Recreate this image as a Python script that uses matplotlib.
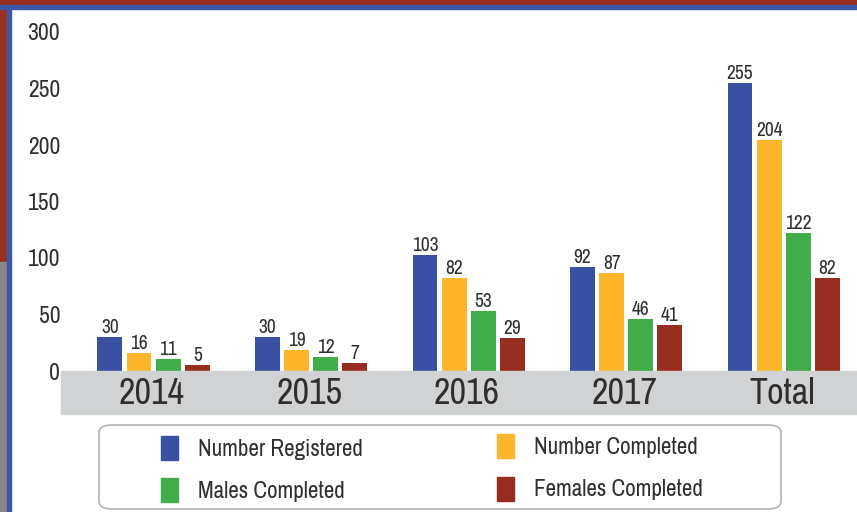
import matplotlib.pyplot as plt
import numpy as np
from matplotlib import font_manager
from matplotlib.patches import Rectangle, FancyBboxPatch

W, H = 857, 512

categories = ["2014", "2015", "2016", "2017", "Total"]
series_names = ["Number Registered", "Number Completed", "Males Completed", "Females Completed"]
registered = [30, 30, 103, 92, 255]
completed = [16, 19, 82, 87, 204]
males = [11, 12, 53, 46, 122]
females = [5, 7, 29, 41, 82]
y_ticks = [0, 50, 100, 150, 200, 250, 300]

colors = ["#3A51A3", "#FDB52B", "#41AC4A", "#962D20"]
text_col = "#2f2f2f"

# prefer a narrow sans if one is installed
names = sorted({f.name for f in font_manager.fontManager.ttflist})
narrow = [n for n in names if "Narrow" in n or "Condensed" in n]
family = narrow[0] if narrow else "Liberation Sans"
plt.rcParams['font.family'] = [family, 'DejaVu Sans']
k = 1.0 if narrow else 0.87  # shrink sizes for a wide fallback font

fig = plt.figure(figsize=(W / 100, H / 100), dpi=100)
fig.patch.set_facecolor("white")


def px(x0, y0, x1, y1):
    # pixel box (top-left origin) -> figure fraction rect
    return [x0 / W, 1 - y1 / H, (x1 - x0) / W, (y1 - y0) / H]


def fig_rect(x0, y0, x1, y1, **kw):
    r = Rectangle((x0 / W, 1 - y1 / H), (x1 - x0) / W, (y1 - y0) / H,
                  transform=fig.transFigure, **kw)
    fig.patches.append(r)
    return r


# frame: red band + blue line along top and left
fig_rect(0, 0, W, 5, color="#9A2F20", zorder=0)
fig_rect(0, 0, 7, 262, color="#9A2F20", zorder=0)
fig_rect(0, 262, 7, H, color="#8a8686", zorder=0)
fig_rect(0, 5, W, 9, color="#3D58A8", zorder=1)
fig_rect(7, 5, 11, H, color="#3D58A8", zorder=1)

# gray category band
fig_rect(61, 371, W, 414, color="#D1D2D4", zorder=1)

ax = fig.add_axes(px(63, 32, W, 371))
ax.set_facecolor("none")
x = np.arange(len(categories))
bw = 0.158
offsets = np.array([-1.5, -0.5, 0.5, 1.5]) * 0.185
for vals, off, c in zip([registered, completed, males, females], offsets, colors):
    bars = ax.bar(x + off, vals, width=bw, color=c, zorder=2)
    for b, v in zip(bars, vals):
        ax.annotate(str(v), (b.get_x() + b.get_width() / 2, v), xytext=(0, 0),
                    textcoords="offset points", ha="center", va="bottom",
                    fontsize=14 * k, color=text_col)

ax.set_xlim(-0.575, 4.465)
ax.set_ylim(0, 300)
ax.set_yticks(y_ticks)
ax.tick_params(axis="y", length=0, pad=2, labelsize=17 * k, labelcolor=text_col)
ax.set_xticks([])
for s in ax.spines.values():
    s.set_visible(False)

# category labels in the band (figure-level so they sit above the band)
for xi, cat in zip(x, categories):
    xf = fig.transFigure.inverted().transform(ax.transData.transform((xi - 0.01, 0)))[0]
    fig.text(xf, 1 - 393 / H, cat, ha="center", va="center",
             fontsize=26 * k, color=text_col, zorder=3)

# legend box
box = FancyBboxPatch((99 / W, 1 - 509 / H), 682 / W, 84 / H, transform=fig.transFigure,
                     boxstyle="round,pad=0,rounding_size=0.015", facecolor="white",
                     edgecolor="#b9b9b9", linewidth=1.3, zorder=2)
fig.patches.append(box)
pos = [(161, 436), (497, 434), (161, 478), (497, 477)]
for (lx, ly), name, c in zip(pos, series_names, colors):
    fig_rect(lx, ly, lx + 17, ly + 24, color=c, zorder=3)
    fig.text((lx + 37) / W, 1 - (ly + 13) / H, name, ha="left", va="center",
             fontsize=16.6 * k, color=text_col, zorder=3)

fig.savefig("out.png", dpi=100)
